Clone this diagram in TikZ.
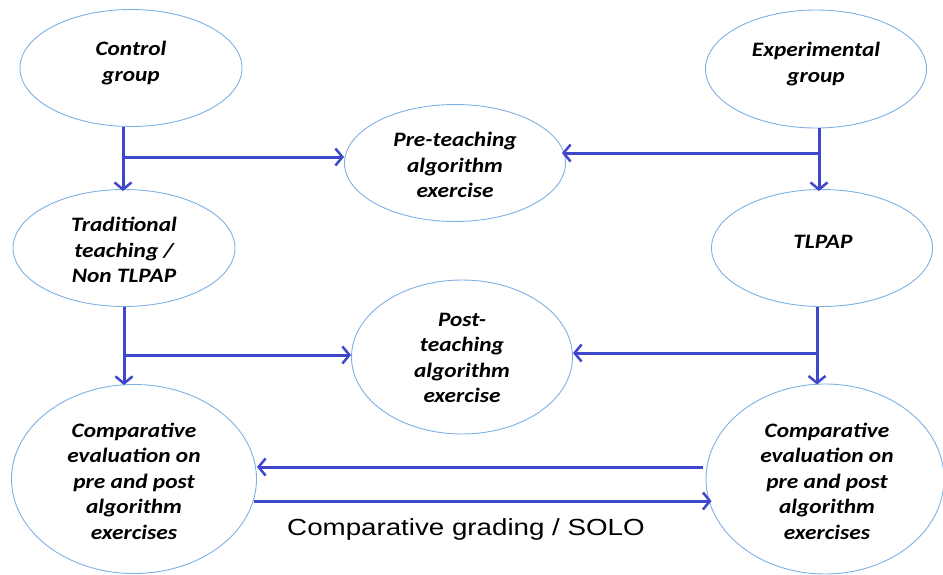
\documentclass[tikz,border=0pt]{standalone}
\usepackage{fontspec}
\setmainfont[FakeStretch=1.14]{Carlito}
\newfontfamily\arialf[FakeStretch=1.19]{Liberation Sans}
\usetikzlibrary{shapes.geometric,arrows.meta}
\definecolor{arrblue}{HTML}{3F48CC}
\definecolor{ellblue}{HTML}{7EB0E2}
\begin{document}
\begin{tikzpicture}[x=1pt,y=-1pt,
  ell/.style={draw=ellblue, line width=0.9pt, ellipse, inner sep=0pt},
  lbl/.style={font=\fontsize{20.5}{25.5}\selectfont\bfseries\itshape, align=center, inner sep=0pt},
  arr/.style={draw=arrblue, line width=3pt, -{Straight Barb[length=7pt,width=17pt,line width=2.5pt]}}]
\useasboundingbox (0,0) rectangle (943,574);
% ellipses
\node[ell, minimum width=222pt, minimum height=117pt] (ctrl) at (131,68) {};
\node[lbl] (ctrlT) at (131,63) {Control\\group};
\node[ell, minimum width=221pt, minimum height=118pt] (exp) at (816,69) {};
\node[lbl] (expT) at (816,64) {Experimental\\group};
\node[ell, minimum width=221pt, minimum height=117pt] (pre) at (455,163) {};
\node[lbl] (preT) at (455,165) {Pre-teaching\\algorithm\\exercise};
\node[ell, minimum width=222pt, minimum height=117pt] (trad) at (124,248) {};
\node[lbl] (tradT) at (124,250) {Traditional\\teaching /\\Non TLPAP};
\node[ell, minimum width=221pt, minimum height=117pt] (tlpap) at (822,248) {};
\node[lbl] (tlpapT) at (823,242) {TLPAP};
\node[ell, minimum width=221pt, minimum height=154pt] (post) at (462,357) {};
\node[lbl] (postT) at (462,358) {Post-\\teaching\\algorithm\\exercise};
\node[ell, minimum width=245pt, minimum height=189pt] (ble) at (134,479) {};
\node[lbl] (bleT) at (134,481) {Comparative\\evaluation on\\pre and post\\algorithm\\exercises};
\node[ell, minimum width=238pt, minimum height=190pt] (bre) at (825,479) {};
\node[lbl] (breT) at (827,481) {Comparative\\evaluation on\\pre and post\\algorithm\\exercises};
% connectors
\coordinate (j1) at (123,157);
\coordinate (j2) at (819,153);
\coordinate (j3) at (124,355);
\coordinate (j4) at (817,353);
\coordinate (y5) at (0,467);
\coordinate (y6) at (0,501);
\draw[arr] (ctrl.south -| j1) -- ([yshift=-2pt]trad.north -| j1);
\draw[arr] (j1) -- (pre.west |- j1);
\draw[arr] (exp.south -| j2) -- ([yshift=-2pt]tlpap.north -| j2);
\draw[arr] (j2) -- ([xshift=-4pt]pre.east |- j2);
\draw[arr] (trad.south -| j3) -- ([yshift=-1pt]ble.north -| j3);
\draw[arr] (j3) -- (post.west |- j3);
\draw[arr] (tlpap.south -| j4) -- ([yshift=-1pt]bre.north -| j4);
\draw[arr] (j4) -- (post.east |- j4);
\draw[arr] ([xshift=-3pt]bre.west |- y5) -- (ble.east |- y5);
\draw[arr] ([xshift=-3pt]ble.east |- y6) -- ([xshift=6pt]bre.west |- y6);
\node[font=\arialf\fontsize{23.3}{27}\selectfont, inner sep=0pt] (grade) at (466,529) {Comparative grading / SOLO};
\end{tikzpicture}
\end{document}
